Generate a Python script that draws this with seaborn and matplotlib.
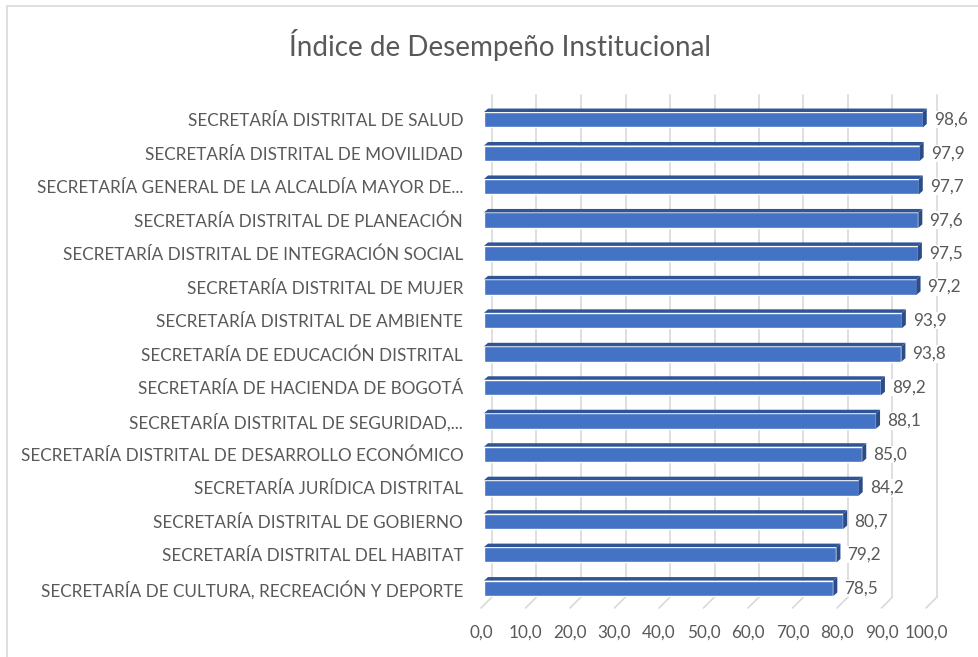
import numpy as np
import pandas as pd
import seaborn as sns
import matplotlib
import matplotlib.pyplot as plt
from matplotlib.patches import Polygon, Rectangle
from matplotlib.lines import Line2D

sns.set_theme(style="white")
plt.rcParams['font.family'] = ['Lato', 'DejaVu Sans']

# data
entidades = [
    "SECRETARÍA DISTRITAL DE SALUD",
    "SECRETARÍA DISTRITAL DE MOVILIDAD",
    "SECRETARÍA GENERAL DE LA ALCALDÍA MAYOR DE...",
    "SECRETARÍA DISTRITAL DE PLANEACIÓN",
    "SECRETARÍA DISTRITAL DE INTEGRACIÓN SOCIAL",
    "SECRETARÍA DISTRITAL DE MUJER",
    "SECRETARÍA DISTRITAL DE AMBIENTE",
    "SECRETARÍA DE EDUCACIÓN DISTRITAL",
    "SECRETARÍA DE HACIENDA DE BOGOTÁ",
    "SECRETARÍA DISTRITAL DE SEGURIDAD,...",
    "SECRETARÍA DISTRITAL DE DESARROLLO ECONÓMICO",
    "SECRETARÍA JURÍDICA DISTRITAL",
    "SECRETARÍA DISTRITAL DE GOBIERNO",
    "SECRETARÍA DISTRITAL DEL HABITAT",
    "SECRETARÍA DE CULTURA, RECREACIÓN Y DEPORTE",
]
indice = [98.6, 97.9, 97.7, 97.6, 97.5, 97.2, 93.9, 93.8, 89.2, 88.1,
          85.0, 84.2, 80.7, 79.2, 78.5]
x_ticks = [0, 10, 20, 30, 40, 50, 60, 70, 80, 90, 100]

df = pd.DataFrame({"entidad": entidades, "indice": indice})

TEXT = "#595959"
GRID = "#D9D9D9"
FRONT = "#4472C4"
TOP = "#2F5597"
SIDE = "#2B4C86"

W, H = 979, 657
fig = plt.figure(figsize=(W / 100, H / 100), dpi=100)
ax = fig.add_axes([484 / W, 1 - 605 / H, (929 - 484) / W, (605 - 103) / H])
ax.set_zorder(3)

sns.barplot(data=df, x="indice", y="entidad", orient="h", color=FRONT,
            saturation=1, width=0.46, ax=ax, zorder=3)
ax.set_xlim(0, 100)
ax.set_ylim(len(entidades) - 0.5, -0.5)
ax.set_xlabel("")
ax.set_ylabel("")
ax.set_xticks(x_ticks)
ax.set_xticklabels([])
ax.tick_params(axis="y", length=0, labelsize=12.3, labelcolor=TEXT, pad=15)
ax.tick_params(axis="x", length=0)
for s in ax.spines.values():
    s.set_visible(False)
ax.patch.set_alpha(0)

# 3D depth in pixels
dep_x, dep_y = 8, 8
ax_w_px = (929 - 484)
ax_h_px = (605 - 103)
ux = 100 / ax_w_px                     # data units per pixel (x)
uy = len(entidades) / ax_h_px          # data units per pixel (y)

# back wall gridlines + floor slants (pixel space)
x0_px, y0_px = 484, H - 605
for t in x_ticks:
    xf = x0_px + t * ax_w_px / 100
    fig.add_artist(Line2D([(xf + dep_x) / W] * 2, [(y0_px + dep_y) / H, (H - 95) / H],
                          color=GRID, lw=1.2, zorder=1))
    fig.add_artist(Line2D([(xf - 3) / W, (xf + dep_x) / W],
                          [(y0_px - 3) / H, (y0_px + dep_y) / H],
                          color=GRID, lw=1.2, zorder=1))
    fig.text((xf - 3) / W, 1 - 633 / H, f"{t:.1f}".replace(".", ","),
             ha="center", va="center", fontsize=12.3, color=TEXT)

# 3D faces on each bar
dx = 4 * ux
dy = 3.5 * uy
for p in ax.patches:
    x0, y0 = p.get_x(), p.get_y()
    w, h = p.get_width(), p.get_height()
    ytop = y0  # inverted y axis: y0 is visually the top
    top = Polygon([(x0, ytop), (x0 + w, ytop), (x0 + w + dx, ytop - dy), (x0 + dx, ytop - dy)],
                  closed=True, facecolor=TOP, edgecolor="none", zorder=4)
    side = Polygon([(x0 + w, ytop), (x0 + w + dx, ytop - dy), (x0 + w + dx, ytop + h - dy),
                    (x0 + w, ytop + h)],
                   closed=True, facecolor=SIDE, edgecolor="none", zorder=4)
    ax.add_patch(top)
    ax.add_patch(side)
    ax.text(x0 + w + 11 * ux, y0 + h / 2, f"{w:.1f}".replace(".", ","),
            ha="left", va="center", fontsize=12.3, color=TEXT, zorder=6,
            bbox=dict(facecolor="white", edgecolor="none", pad=0.5))

fig.text(500 / W, 1 - 45 / H, "Índice de Desempeño Institucional",
         ha="center", va="center", fontsize=20, color=TEXT)

# chart border
fig.add_artist(Rectangle((7 / W, -0.1), 1.2, 1 - 6 / H + 0.1, fill=False,
                         edgecolor=GRID, lw=1.2, transform=fig.transFigure, zorder=0))

fig.savefig("out.png", dpi=100, facecolor="white")
